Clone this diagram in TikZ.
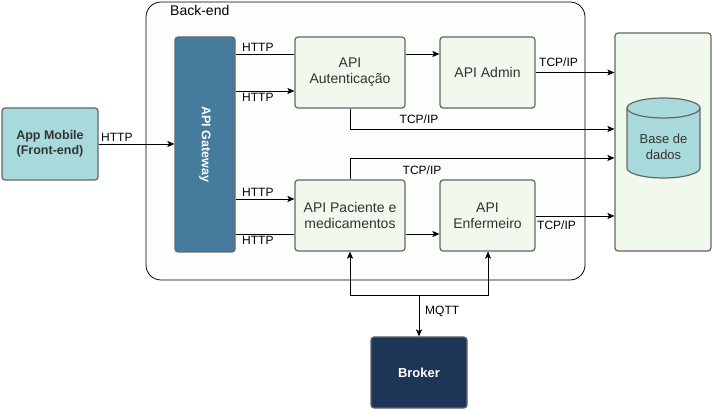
\documentclass[tikz,border=0pt]{standalone}
\usepackage{fontspec}
\setmainfont{Liberation Sans}
\usetikzlibrary{arrows.meta}
\definecolor{teal1}{HTML}{A8DADC}
\definecolor{blue1}{HTML}{457B9D}
\definecolor{navy1}{HTML}{1D3557}
\definecolor{mint1}{HTML}{F1F8EE}
\definecolor{bgback}{HTML}{FCFEFB}
\definecolor{bord}{HTML}{666666}
\definecolor{txt}{HTML}{333333}
\tikzset{
  box/.style={draw=bord, line width=1.2pt, rounded corners=3pt, fill=mint1, align=center, text=txt, font=\fontsize{14}{16}\selectfont, inner sep=0pt},
  lbl/.style={font=\fontsize{12}{14}\selectfont, text=black, inner sep=1pt},
  conn/.style={draw=black, line width=0.8pt},
  arr/.style={conn, -{Stealth[length=7pt,width=6pt,inset=1.5pt]}},
}
\begin{document}
\begin{tikzpicture}[x=1pt,y=-1pt]
\useasboundingbox (0,0) rectangle (712,411);
% back-end container
\node[draw=black, line width=0.8pt, fill=bgback, rounded corners=15pt, minimum width=439pt, minimum height=278pt, inner sep=0pt] (backend) at (365.5,141) {};
\node[font=\fontsize{14}{16}\selectfont, inner sep=1pt, anchor=west, text=black] (backlbl) at (169,11) {Back-end};
% boxes
\node[box, fill=teal1, font=\bfseries\fontsize{12.5}{15}\selectfont, minimum width=96pt, minimum height=72pt] (app) at (50,144) {App Mobile\\(Front-end)};
\node[box, fill=blue1, minimum width=60pt, minimum height=215pt] (gw) at (205,144.5) {};
\node[text=white, font=\bfseries\fontsize{12.5}{14}\selectfont, rotate=-90] (gwtxt) at (gw.center) {API Gateway};
\node[box, minimum width=110pt, minimum height=71pt] (auth) at (350,72.5) {API\\Autenticação};
\node[box, minimum width=95pt, minimum height=71pt] (admin) at (487.5,72.5) {API Admin};
\node[box, minimum width=110pt, minimum height=71pt] (pac) at (350,215.5) {API Paciente e\\medicamentos};
\node[box, minimum width=95pt, minimum height=71pt] (enf) at (487.5,215.5) {API\\Enfermeiro};
\node[box, minimum width=96pt, minimum height=218pt] (dbc) at (663,142) {};
% cylinder
\draw[draw=bord, line width=1.2pt, fill=teal1] (627,108) -- (627,168) arc[start angle=180, end angle=360, x radius=36.5pt, y radius=10pt] -- (700,108) arc[start angle=0, end angle=180, x radius=36.5pt, y radius=10pt] -- cycle;
\draw[draw=bord, line width=1.2pt] (627,108) arc[start angle=180, end angle=360, x radius=36.5pt, y radius=10pt];
\node[align=center, text=txt, font=\fontsize{13}{16}\selectfont] (db) at (663.5,147) {Base de\\dados};
\node[box, fill=navy1, text=white, font=\bfseries\fontsize{13}{15}\selectfont, minimum width=96pt, minimum height=71pt] (broker) at (419,372.5) {Broker};
% connectors
\draw[arr] (app.east) -- (gw.west |- app.east);
\node[lbl, anchor=south west] (l1) at (100,143) {HTTP};
\draw[conn] (gw.east |- 0,54) -- (auth.west |- 0,54);
\node[lbl, anchor=south west] (l2) at (241,53) {HTTP};
\draw[arr] (gw.east |- 0,91) -- (auth.west |- 0,91);
\node[lbl, anchor=north west] (l3) at (241,92) {HTTP};
\draw[arr] (gw.east |- 0,199) -- (pac.west |- 0,199);
\node[lbl, anchor=south west] (l4) at (241,198) {HTTP};
\draw[conn] (gw.east |- 0,234) -- (pac.west |- 0,234);
\node[lbl, anchor=north west] (l5) at (241,235) {HTTP};
\draw[arr] (auth.east |- 0,54) -- (admin.west |- 0,54);
\draw[arr] (admin.east) -- (dbc.west |- admin.east);
\node[lbl, anchor=south west] (l6) at (538,68) {TCP/IP};
\draw[arr] (auth.south) -- (350,129) -- (dbc.west |- 0,129);
\node[lbl] (l7) at (419,119) {TCP/IP};
\draw[arr] (pac.north) -- (350,158) -- (dbc.west |- 0,158);
\node[lbl] (l8) at (422,170) {TCP/IP};
\draw[arr] (pac.east |- 0,234) -- (enf.west |- 0,234);
\draw[arr] (enf.east |- 0,216) -- (dbc.west |- 0,216);
\node[lbl, anchor=north west] (l9) at (536,220) {TCP/IP};
\coordinate (split) at (419,295);
\draw[arr] (split) -- (350,295) -- (pac.south);
\draw[arr] (split) -- (488,295) -- (enf.south -| 488,0);
\draw[arr] (split) -- (broker.north);
\node[lbl, anchor=west] (l10) at (424,311) {MQTT};
\end{tikzpicture}
\end{document}
